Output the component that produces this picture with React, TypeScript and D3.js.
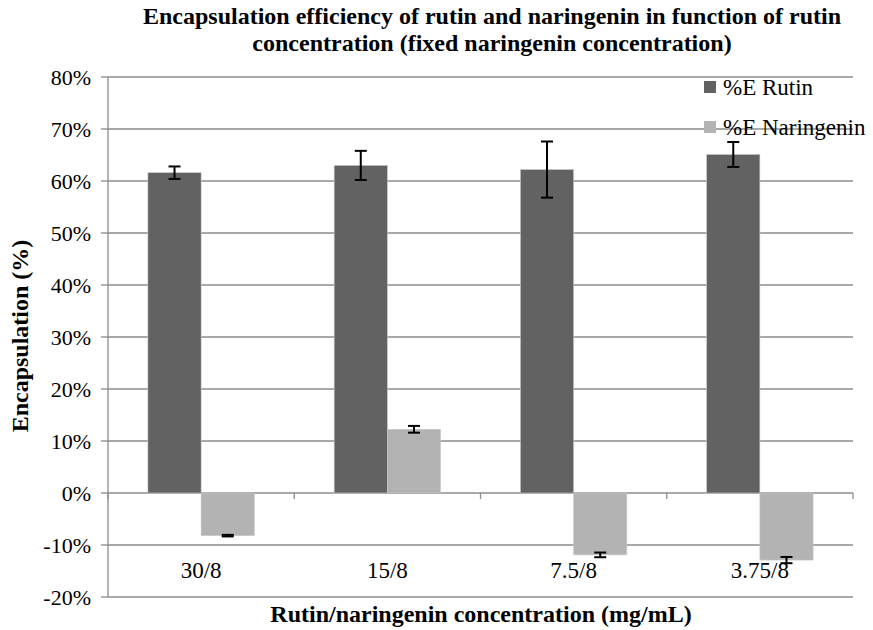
import React, { useEffect, useRef } from 'react';
import * as d3 from 'd3';

const categories = ['30/8', '15/8', '7.5/8', '3.75/8'];
const seriesNames = ['%E Rutin', '%E Naringenin'];
const rutinValues = [61.6, 63.0, 62.2, 65.1];
const rutinErrors = [1.2, 2.8, 5.4, 2.4];
const naringeninValues = [-8.2, 12.25, -11.9, -12.9];
const naringeninErrors = [0.15, 0.65, 0.45, 0.6];
const yTicks = [-20, -10, 0, 10, 20, 30, 40, 50, 60, 70, 80];
const seriesColors = ['#626262', '#b3b3b3'];

interface BarDatum {
  cat: string;
  series: number;
  value: number;
  err: number;
}

const App = () => {
  const svgRef = useRef<SVGSVGElement | null>(null);

  useEffect(() => {
    if (!svgRef.current) return;
    const svg = d3.select(svgRef.current);
    svg.selectAll('*').remove();

    const width = 873;
    const height = 630;
    const margin = { top: 77, right: 20, bottom: 33, left: 108 };
    const plotW = width - margin.left - margin.right;
    const plotH = height - margin.top - margin.bottom;
    const font = "'Liberation Serif', 'Times New Roman', serif";

    const x0 = d3.scaleBand<string>()
      .domain(categories)
      .range([0, plotW])
      .paddingInner(0)
      .paddingOuter(0);

    // two bars per category, gap width 150%
    const barW = x0.bandwidth() / 3.5;
    const y = d3.scaleLinear().domain([-20, 80]).range([plotH, 0]);

    const g = svg.append('g').attr('transform', `translate(${margin.left},${margin.top})`);

    // gridlines
    g.selectAll('.grid')
      .data(yTicks)
      .enter()
      .append('line')
      .attr('x1', 0)
      .attr('x2', plotW)
      .attr('y1', d => y(d))
      .attr('y2', d => y(d))
      .attr('stroke', '#8c8c8c')
      .attr('stroke-width', 1.3);

    // left axis line + ticks
    g.append('line')
      .attr('x1', 0).attr('x2', 0)
      .attr('y1', 0).attr('y2', plotH)
      .attr('stroke', '#8c8c8c')
      .attr('stroke-width', 1.3);
    g.selectAll('.ytick')
      .data(yTicks)
      .enter()
      .append('line')
      .attr('x1', -7).attr('x2', 0)
      .attr('y1', d => y(d)).attr('y2', d => y(d))
      .attr('stroke', '#8c8c8c')
      .attr('stroke-width', 1.3);
    g.selectAll('.ylabel')
      .data(yTicks)
      .enter()
      .append('text')
      .attr('x', -17)
      .attr('y', d => y(d) + 7.5)
      .attr('text-anchor', 'end')
      .style('font-family', font)
      .style('font-size', '22px')
      .attr('fill', '#000')
      .text(d => `${d}%`);

    // category tick marks on the 0 line
    const bounds = [0, ...categories.map(c => (x0(c) as number) + x0.bandwidth())];
    g.selectAll('.xtick')
      .data(bounds)
      .enter()
      .append('line')
      .attr('x1', d => d).attr('x2', d => d)
      .attr('y1', y(0)).attr('y2', y(0) + 6)
      .attr('stroke', '#8c8c8c')
      .attr('stroke-width', 1.3);

    const data: BarDatum[] = [];
    categories.forEach((c, i) => {
      data.push({ cat: c, series: 0, value: rutinValues[i], err: rutinErrors[i] });
      data.push({ cat: c, series: 1, value: naringeninValues[i], err: naringeninErrors[i] });
    });
    const barX = (d: BarDatum) =>
      (x0(d.cat) as number) + x0.bandwidth() / 2 - barW + d.series * barW;

    g.selectAll('.bar')
      .data(data)
      .enter()
      .append('rect')
      .attr('x', d => barX(d))
      .attr('width', barW)
      .attr('y', d => y(Math.max(0, d.value)))
      .attr('height', d => Math.abs(y(d.value) - y(0)))
      .attr('fill', d => seriesColors[d.series])
      .attr('stroke', '#c8c8c8')
      .attr('stroke-width', 0.6);

    // category labels (drawn before error bars so the caps sit on top)
    g.selectAll('.xlabel')
      .data(categories)
      .enter()
      .append('text')
      .attr('x', d => (x0(d) as number) + x0.bandwidth() / 2)
      .attr('y', y(-15) + 7)
      .attr('text-anchor', 'middle')
      .style('font-family', font)
      .style('font-size', '23px')
      .attr('fill', '#000')
      .text(d => d);

    // error bars
    const eb = g.selectAll('.err')
      .data(data)
      .enter()
      .append('g')
      .attr('transform', d => `translate(${barX(d) + barW / 2},0)`);
    eb.append('line')
      .attr('y1', d => y(d.value + d.err))
      .attr('y2', d => y(d.value - d.err))
      .attr('stroke', '#000')
      .attr('stroke-width', 2);
    eb.append('line')
      .attr('x1', -6).attr('x2', 6)
      .attr('y1', d => y(d.value + d.err))
      .attr('y2', d => y(d.value + d.err))
      .attr('stroke', '#000')
      .attr('stroke-width', 2);
    eb.append('line')
      .attr('x1', -6).attr('x2', 6)
      .attr('y1', d => y(d.value - d.err))
      .attr('y2', d => y(d.value - d.err))
      .attr('stroke', '#000')
      .attr('stroke-width', 2);

    // legend
    const legend = svg.append('g').attr('transform', 'translate(704,81)');
    seriesNames.forEach((name, i) => {
      legend.append('rect')
        .attr('x', 0)
        .attr('y', i * 40)
        .attr('width', 12)
        .attr('height', 12)
        .attr('fill', seriesColors[i]);
      legend.append('text')
        .attr('x', 19)
        .attr('y', i * 40 + 14)
        .style('font-family', font)
        .style('font-size', '23px')
        .attr('fill', '#000')
        .text(name);
    });

    // title
    const title = svg.append('text')
      .attr('text-anchor', 'middle')
      .style('font-family', font)
      .style('font-weight', 'bold')
      .style('font-size', '24px')
      .attr('fill', '#000');
    title.append('tspan')
      .attr('x', 492).attr('y', 24)
      .text('Encapsulation efficiency of rutin and naringenin in function of rutin');
    title.append('tspan')
      .attr('x', 492).attr('y', 51)
      .text('concentration (fixed naringenin concentration)');

    // axis titles
    svg.append('text')
      .attr('transform', 'translate(28,336) rotate(-90)')
      .attr('text-anchor', 'middle')
      .style('font-family', font)
      .style('font-weight', 'bold')
      .style('font-size', '24px')
      .attr('fill', '#000')
      .text('Encapsulation (%)');
    svg.append('text')
      .attr('x', 481)
      .attr('y', 622)
      .attr('text-anchor', 'middle')
      .style('font-family', font)
      .style('font-weight', 'bold')
      .style('font-size', '24px')
      .attr('fill', '#000')
      .text('Rutin/naringenin concentration (mg/mL)');
  }, []);

  return (
    <div style={{ position: 'absolute', left: 0, top: 0, width: 873, height: 630, background: '#fff' }}>
      <svg ref={svgRef} width={873} height={630} style={{ display: 'block' }}></svg>
    </div>
  );
};

export default App;
